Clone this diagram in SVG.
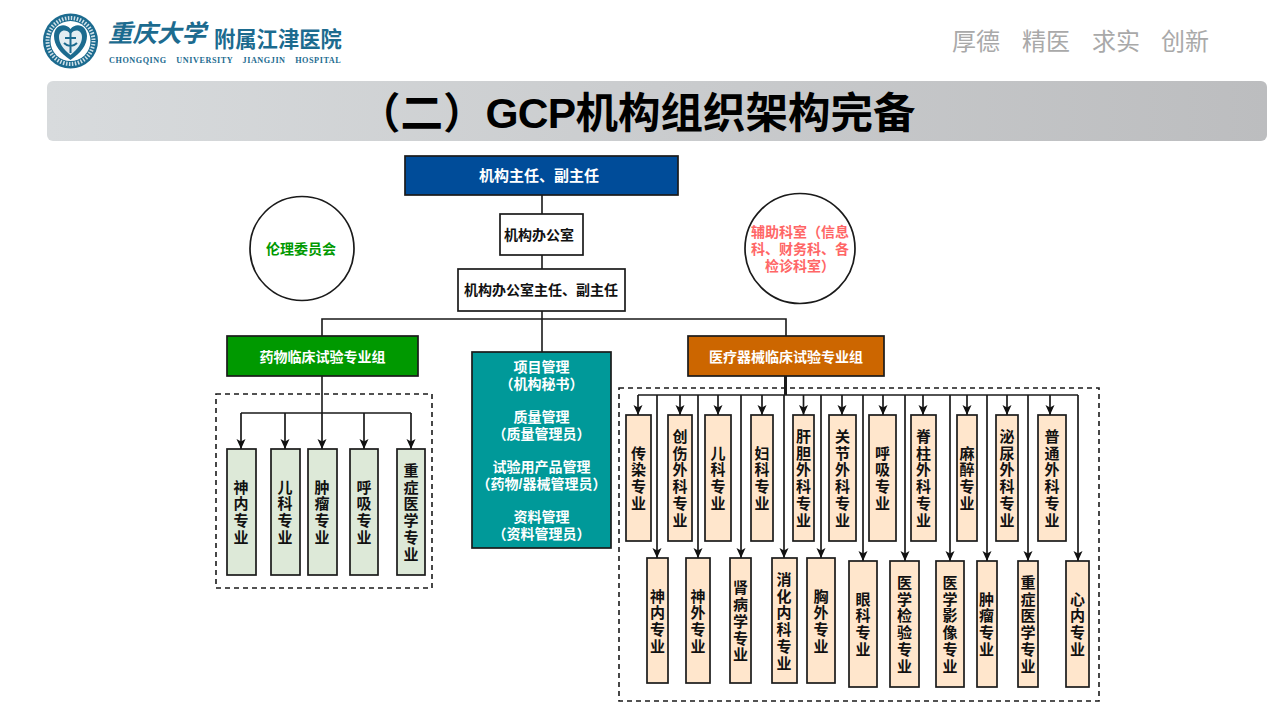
<svg xmlns="http://www.w3.org/2000/svg" width="1280" height="720" viewBox="0 0 1280 720">
<style>
text{font-family:"Liberation Sans","Noto Sans CJK SC",sans-serif;font-weight:700}
.c{text-anchor:middle}
.w{fill:#fff;font-size:14px;text-anchor:middle}
.k{fill:#111;font-size:14px;text-anchor:middle}
.v{font-family:"Noto Sans CJK SC",sans-serif;fill:#111;font-size:15px;text-anchor:middle;writing-mode:vertical-rl;text-orientation:upright;letter-spacing:1.7px}
.b{stroke:#1a1a1a;stroke-width:1.7}
.p{fill:#ffe6cc}
.g{fill:#dde9d8}
.l{fill:none;stroke:#1a1a1a;stroke-width:1.6}
.a{fill:none;stroke:#1a1a1a;stroke-width:1.7;marker-end:url(#arrow)}
.d{fill:none;stroke:#1a1a1a;stroke-width:1.6;stroke-dasharray:5 4}
.s{fill:#a9a9a9;font-size:24px;font-weight:400}
.t{fill:#1c6b8f}
</style>
<defs>
<linearGradient id="bar" x1="0" x2="1" y1="0" y2="0"><stop offset="0" stop-color="#d8dbdd"/><stop offset="1" stop-color="#bcbdbf"/></linearGradient>
<marker id="arrow" markerUnits="userSpaceOnUse" markerWidth="10" markerHeight="10" refX="10" refY="5" orient="auto"><path d="M0,0.5 L10,5 L0,9.5 L2.5,5 Z" fill="#111"/></marker>
</defs>
<rect width="1280" height="720" fill="#fff"/>
<g id="logo">
<circle class="t" cx="70.500" cy="41" r="27.500"/>
<circle cx="70.500" cy="41" r="23" fill="none" stroke="#cfe0e8" stroke-width="4" stroke-dasharray="1.500 1.500"/>
<circle cx="70.500" cy="41" r="20" fill="#fff"/>
<path class="t" d="M70.500,60 C60,53 54,45 54,36 C54,25 65,22 70.500,29 C76,22 87,25 87,36 C87,45 81,53 70.500,60 Z"/>
<path d="M70.500,55 C63,49 59,43 59,37 C59,30 66,28 70.500,34 C75,28 82,30 82,37 C82,43 78,49 70.500,55 Z" fill="#e3edf2"/>
<path d="M70.500,32 V53 M64,43 C68,47 73,47 77,43 M65,38 H76" stroke="#1c6b8f" stroke-width="2" fill="none"/>
<text class="t" x="108" y="42" font-size="24.500" font-style="italic">重庆大学</text>
<text class="t" x="214" y="47" font-size="21.300">附属江津医院</text>
<text class="t" x="109" y="63" font-size="8.200" word-spacing="7" letter-spacing="0.550" style="font-family:'Liberation Serif',serif">CHONGQING UNIVERSITY JIANGJIN HOSPITAL</text>
</g>
<g id="slogan">
<text class="s" x="952" y="50">厚德</text><text class="s" x="1022" y="50">精医</text><text class="s" x="1092" y="50">求实</text><text class="s" x="1161" y="50">创新</text>
</g>
<g id="title">
<rect x="47" y="81" width="1220" height="60" rx="6" fill="url(#bar)"/>
<text x="358" y="128" font-size="42.500" fill="#000">（二）<tspan letter-spacing="-0.700">GCP</tspan>机构组织架构完备</text>
</g>
<g id="connectors">
<path class="l" d="M542,195 V214 M542,255 V269 M542,311 V352 M322,336 V319 H786 V336"/>
<path class="l" d="M322,376 V413 M241,413 H411"/>
<path class="a" d="M241,413 V449"/><path class="a" d="M285,413 V449"/><path class="a" d="M322,413 V449"/><path class="a" d="M364,413 V449"/><path class="a" d="M411,413 V449"/>
<path d="M785.500,376 V395" stroke="#1a1a1a" stroke-width="3" fill="none"/>
<path class="l" d="M638,395 H1078"/>
<path class="a" d="M638,395 V415"/><path class="a" d="M680,395 V415"/><path class="a" d="M718,395 V415"/><path class="a" d="M762,395 V415"/><path class="a" d="M803.500,395 V415"/><path class="a" d="M842,395 V415"/><path class="a" d="M883,395 V415"/><path class="a" d="M923,395 V415"/><path class="a" d="M967,395 V415"/><path class="a" d="M1007,395 V415"/><path class="a" d="M1050,395 V415"/>
<path class="a" d="M657,395 V558"/><path class="a" d="M698,395 V558"/><path class="a" d="M741,395 V558"/><path class="a" d="M784,395 V558"/><path class="a" d="M821,395 V558"/><path class="a" d="M863,395 V561"/><path class="a" d="M905,395 V561"/><path class="a" d="M950,395 V561"/><path class="a" d="M987,395 V561"/><path class="a" d="M1028,395 V561"/><path class="a" d="M1078,395 V561"/>
</g>
<rect class="d" x="216" y="394" width="216" height="194"/>
<rect class="d" x="619" y="388" width="480" height="313"/>
<g id="n-director"><rect class="b" x="405" y="156" width="273" height="39" fill="#004c99"/><text class="w" x="539" y="181" style="font-size:15px">机构主任、副主任</text></g>
<g id="n-office"><rect class="b" x="500" y="214" width="83" height="41" fill="#fff"/><text class="k" x="539" y="240">机构办公室</text></g>
<g id="n-office-head"><rect class="b" x="458" y="269" width="167" height="42" fill="#fff"/><text class="k" x="541" y="295">机构办公室主任、副主任</text></g>
<g id="n-ethics"><circle class="b" cx="302" cy="248.500" r="52" fill="#fff"/><text x="301" y="254" class="c" font-size="14" fill="#009900">伦理委员会</text></g>
<g id="n-aux"><circle class="b" cx="800" cy="248.500" r="55" fill="#fff"/><g font-size="14" fill="#ff6666"><text x="800" y="237" class="c">辅助科室（信息</text><text x="800" y="254" class="c">科、财务科、各</text><text x="800" y="271" class="c">检诊科室）</text></g></g>
<g id="n-drug"><rect class="b" x="227" y="336" width="191" height="40" fill="#009900"/><text class="w" x="322.500" y="362">药物临床试验专业组</text></g>
<g id="n-device"><rect class="b" x="688" y="336" width="196" height="40" fill="#cc6600"/><text class="w" x="786" y="362">医疗器械临床试验专业组</text></g>
<g id="n-manage"><rect class="b" x="472" y="352" width="139" height="196" fill="#009999"/>
<text class="w" x="541.500" y="372">项目管理</text><text class="w" x="541.500" y="389">（机构秘书）</text>
<text class="w" x="541.500" y="422">质量管理</text><text class="w" x="541.500" y="439">（质量管理员）</text>
<text class="w" x="541.500" y="472">试验用产品管理</text><text class="w" x="541.500" y="489">（药物/器械管理员）</text>
<text class="w" x="541.500" y="522">资料管理</text><text class="w" x="541.500" y="539">（资料管理员）</text></g>
<g id="n-d1"><rect class="b g" x="227" y="449" width="29" height="126"/><text class="v" x="241" y="513">神内专业</text></g>
<g id="n-d2"><rect class="b g" x="271" y="449" width="29" height="126"/><text class="v" x="285" y="513">儿科专业</text></g>
<g id="n-d3"><rect class="b g" x="308" y="449" width="29" height="126"/><text class="v" x="322" y="513">肿瘤专业</text></g>
<g id="n-d4"><rect class="b g" x="350" y="449" width="28" height="126"/><text class="v" x="364" y="513">呼吸专业</text></g>
<g id="n-d5"><rect class="b g" x="397" y="449" width="28" height="126"/><text class="v" x="411" y="513">重症医学专业</text></g>
<g id="n-t1"><rect class="b p" x="626" y="415" width="25" height="126"/><text class="v" x="638.500" y="479">传染专业</text></g>
<g id="n-t2"><rect class="b p" x="668" y="415" width="24" height="126"/><text class="v" x="680" y="479">创伤外科专业</text></g>
<g id="n-t3"><rect class="b p" x="705" y="415" width="26" height="126"/><text class="v" x="718" y="479">儿科专业</text></g>
<g id="n-t4"><rect class="b p" x="751" y="415" width="22" height="126"/><text class="v" x="762" y="479">妇科专业</text></g>
<g id="n-t5"><rect class="b p" x="793" y="415" width="21" height="126"/><text class="v" x="803.500" y="479">肝胆外科专业</text></g>
<g id="n-t6"><rect class="b p" x="829" y="415" width="27" height="126"/><text class="v" x="842.500" y="479">关节外科专业</text></g>
<g id="n-t7"><rect class="b p" x="869" y="415" width="27" height="126"/><text class="v" x="882.500" y="479">呼吸专业</text></g>
<g id="n-t8"><rect class="b p" x="911" y="415" width="25" height="126"/><text class="v" x="923.500" y="479">脊柱外科专业</text></g>
<g id="n-t9"><rect class="b p" x="957" y="415" width="20" height="126"/><text class="v" x="967" y="479">麻醉专业</text></g>
<g id="n-t10"><rect class="b p" x="996" y="415" width="22" height="126"/><text class="v" x="1007" y="479">泌尿外科专业</text></g>
<g id="n-t11"><rect class="b p" x="1038" y="415" width="28" height="126"/><text class="v" x="1052" y="479">普通外科专业</text></g>
<g id="n-m1"><rect class="b p" x="647" y="558" width="21" height="125"/><text class="v" x="657.500" y="622">神内专业</text></g>
<g id="n-m2"><rect class="b p" x="686" y="558" width="24" height="125"/><text class="v" x="698" y="622">神外专业</text></g>
<g id="n-m3"><rect class="b p" x="730" y="558" width="21" height="125"/><text class="v" x="740.500" y="622">肾病学专业</text></g>
<g id="n-m4"><rect class="b p" x="772" y="558" width="25" height="125"/><text class="v" x="784" y="622">消化内科专业</text></g>
<g id="n-m5"><rect class="b p" x="807" y="558" width="28" height="125"/><text class="v" x="821" y="622">胸外专业</text></g>
<g id="n-m6"><rect class="b p" x="849" y="561" width="28" height="126"/><text class="v" x="863" y="625">眼科专业</text></g>
<g id="n-m7"><rect class="b p" x="890" y="561" width="29" height="126"/><text class="v" x="904.500" y="625">医学检验专业</text></g>
<g id="n-m8"><rect class="b p" x="936" y="561" width="28" height="126"/><text class="v" x="950" y="625">医学影像专业</text></g>
<g id="n-m9"><rect class="b p" x="977" y="561" width="20" height="126"/><text class="v" x="986.500" y="625">肿瘤专业</text></g>
<g id="n-m10"><rect class="b p" x="1018" y="561" width="20" height="126"/><text class="v" x="1028" y="625">重症医学专业</text></g>
<g id="n-m11"><rect class="b p" x="1066" y="561" width="23" height="126"/><text class="v" x="1077.500" y="625">心内专业</text></g>
</svg>
